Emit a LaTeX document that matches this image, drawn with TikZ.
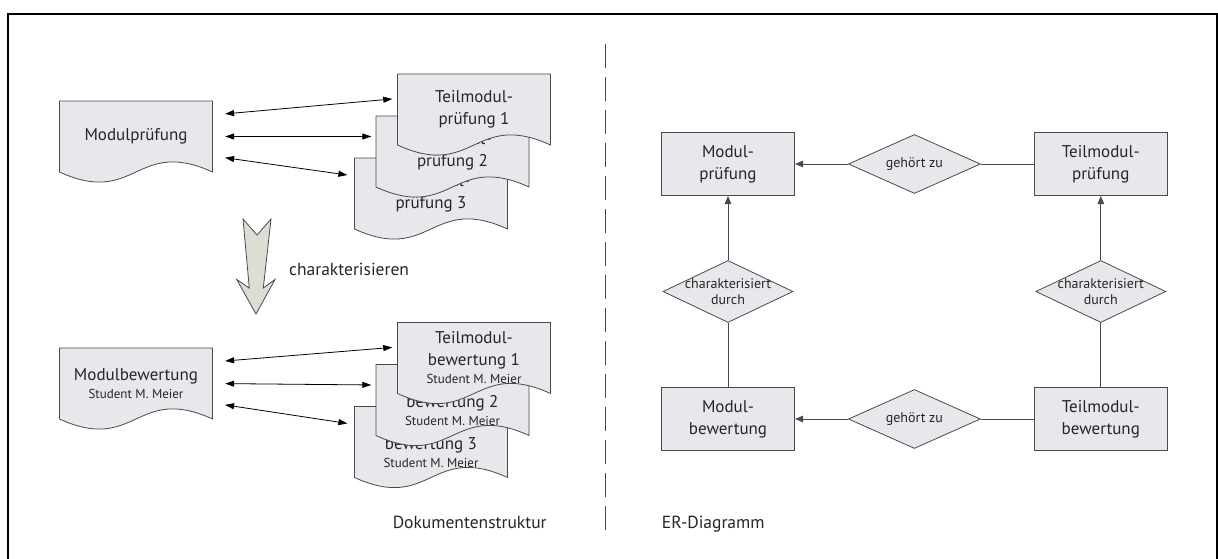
\documentclass[tikz,border=0pt]{standalone}
\usepackage{fontspec}
\setmainfont{PT Sans}
\usetikzlibrary{shapes.geometric,arrows.meta}

\definecolor{paper}{HTML}{E7E8EC}
\definecolor{arrowfill}{HTML}{DCDDD3}
\definecolor{edge}{HTML}{4A4A4A}
\definecolor{ink}{HTML}{262626}

\tikzset{
  docfill/.style={fill=paper, draw=edge, line width=0.8pt},
  doctext/.style={inner sep=0pt, minimum width=153pt, minimum height=71pt,
    align=center, text=ink, font=\fontsize{17}{22}\selectfont},
  link/.style={draw=black, line width=0.8pt,
    {Triangle[length=9pt,width=6pt]}-{Triangle[length=9pt,width=6pt]}},
  entity/.style={rectangle, draw=edge, fill=paper, line width=1pt,
    minimum width=133pt, minimum height=63pt, inner sep=0pt,
    align=center, text=ink, font=\fontsize{17}{22}\selectfont},
  relation/.style={diamond, draw=edge, fill=paper, line width=0.8pt,
    minimum width=132pt, minimum height=59pt, inner sep=0pt},
  rellabel/.style={align=center, text=ink, inner sep=0pt,
    font=\fontsize{14}{16}\selectfont},
  erline/.style={draw=edge, line width=0.9pt},
  erarrow/.style={erline, -{Triangle[length=8pt,width=6.5pt]}},
  caption/.style={inner sep=0pt, text=ink, font=\fontsize{17.5}{21}\selectfont},
}

% a document page with a wavy lower edge; #1 name, #2/#3 top-left corner, #4 text
\newcommand\docpage[4]{%
  \begin{scope}[shift={(#2,#3)}]
    \path[docfill] (0,0) -- (153,0) -- (153,71)
      .. controls (76.5,36) and (76.5,106) .. (0,71) -- cycle;
    \node[doctext] (#1) at (76.5,35.5) {#4};
  \end{scope}}
\newcommand\studentline{\\[-4pt]{\fontsize{13}{15}\selectfont Student M. Meier}}

\begin{document}
\begin{tikzpicture}[x=1pt,y=-1pt]
\useasboundingbox (0,0) rectangle (1218,559);

% outer frame
\draw[line width=2pt] (7.5,560) -- (7.5,14) -- (1217,14) -- (1217,560);

% divider between the two halves
\draw[edge, line width=1pt, dash pattern=on 24pt off 9pt] (605.3,44) -- (605.3,530);

% ---------- document structure ----------
\docpage{mp}{59.5}{101}{Modulprüfung}
\docpage{tp3}{354.5}{158}{Teilmodul-\\prüfung 3}
\docpage{tp2}{376}{116}{Teilmodul-\\prüfung 2}
\docpage{tp1}{397.5}{74}{Teilmodul-\\prüfung 1}

\draw[link, shorten <=12.5pt, shorten >=5pt] ([yshift=21.5pt]mp.east) -- ([yshift=11pt]tp1.west);
\draw[link, shorten <=12.5pt, shorten >=4.5pt] (mp.east) -- ([yshift=15pt]tp2.west);
\draw[link, shorten <=12.5pt, shorten >=7pt] ([yshift=-19.5pt]mp.east) -- ([yshift=17.5pt]tp3.west);

% transition arrow
\draw[fill=arrowfill, draw=edge, line width=0.8pt, line join=miter]
  (243,219) -- (257,235) -- (271,219) -- (263.3,288) -- (275,279.5)
  -- (256,314) -- (236.7,279.5) -- (249.3,288) -- cycle;
\node[caption, anchor=west] (char) at (289,269) {charakterisieren};

\docpage{mb}{59.5}{348}{Modulbewertung\studentline}
\docpage{bp3}{354.5}{406.5}{Teilmodul-\\bewertung 3\studentline}
\docpage{bp2}{376}{364.5}{Teilmodul-\\bewertung 2\studentline}
\docpage{bp1}{397.5}{322.5}{Teilmodul-\\bewertung 1\studentline}

\draw[link, shorten <=12.5pt, shorten >=5pt] ([yshift=21.5pt]mb.east) -- ([yshift=11pt]bp1.west);
\draw[link, shorten <=12.5pt, shorten >=4.5pt] (mb.east) -- ([yshift=15pt]bp2.west);
\draw[link, shorten <=12.5pt, shorten >=7pt] ([yshift=-19.5pt]mb.east) -- ([yshift=17.5pt]bp3.west);

\node[caption, anchor=base] (dok) at (469.7,528) {Dokumentenstruktur};

% ---------- ER diagram ----------
\node[entity] (emp) at (728,164) {Modul-\\prüfung};
\node[entity] (etp) at (1100.8,164) {Teilmodul-\\prüfung};
\node[entity] (emb) at (728,419) {Modul-\\bewertung};
\node[entity] (etb) at (1100.8,419) {Teilmodul-\\bewertung};

\node[relation, label={[rellabel]center:gehört zu}] (rg1) at (914.4,164) {};
\node[relation, label={[rellabel]center:gehört zu}] (rg2) at (914.4,419) {};
\node[relation, minimum width=130pt, minimum height=62pt,
  label={[rellabel]center:{charakterisiert\\durch}}] (rc1) at (728,291.5) {};
\node[relation, minimum width=130pt, minimum height=62pt,
  label={[rellabel]center:{charakterisiert\\durch}}] (rc2) at (1100.8,291.5) {};

\draw[erarrow] (rg1.west) -- (emp.east);
\draw[erline]  (rg1.east) -- (etp.west);
\draw[erarrow] (rg2.west) -- (emb.east);
\draw[erline]  (rg2.east) -- (etb.west);
\draw[erarrow] (rc1.north) -- (emp.south);
\draw[erline]  (rc1.south) -- (emb.north);
\draw[erarrow] (rc2.north) -- (etp.south);
\draw[erline]  (rc2.south) -- (etb.north);

\node[caption, anchor=base west] (erd) at (661.7,528) {ER-Diagramm};
\end{tikzpicture}
\end{document}
